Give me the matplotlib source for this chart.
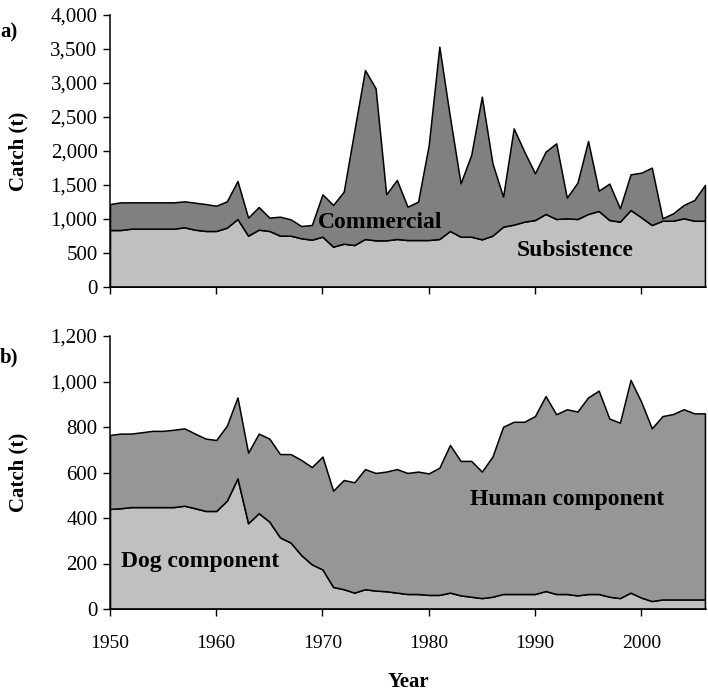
import matplotlib.pyplot as plt
import numpy as np
from matplotlib.ticker import FuncFormatter

plt.rcParams["font.family"] = ["Liberation Serif", "DejaVu Serif"]

years = np.arange(1950, 2007)

# panel a) subsistence and commercial catch (t)
subsistence = [
    838, 838, 858, 858, 858, 858, 858, 878, 843, 824,
    824, 873, 1000, 755, 843, 824, 755, 755, 716, 696,
    740, 593, 637, 617, 706, 686, 686, 706, 691, 691,
    691, 706, 824, 740, 740, 701, 755, 887, 917, 961,
    985, 1074, 1000, 1010, 1000, 1074, 1118, 985, 961, 1132,
    1024, 912, 975, 975, 1010, 975, 975,
]
total_a = [
    1220, 1245, 1245, 1245, 1245, 1245, 1245, 1260, 1240, 1220,
    1195, 1260, 1559, 1020, 1176, 1020, 1034, 995, 897, 912,
    1363, 1206, 1402, 2300, 3191, 2922, 1363, 1574, 1181, 1255,
    2088, 3534, 2500, 1525, 1941, 2799, 1819, 1328, 2333, 1990,
    1672, 1990, 2113, 1314, 1534, 2147, 1417, 1520, 1157, 1657,
    1681, 1755, 1010, 1083, 1206, 1279, 1500,
]
commercial = [t - s for t, s in zip(total_a, subsistence)]

# panel b) dog and human components (t)
dog = [
    440, 443, 448, 448, 448, 448, 448, 454, 443, 431,
    431, 476, 574, 377, 421, 384, 315, 292, 237, 196,
    174, 97, 87, 72, 87, 81, 78, 72, 66, 66,
    62, 62, 72, 60, 54, 48, 54, 66, 66, 66,
    66, 79, 66, 66, 60, 66, 66, 54, 48, 72,
    50, 35, 42, 42, 42, 42, 42,
]
total_b = [
    765, 771, 771, 777, 783, 783, 788, 794, 771, 749,
    743, 806, 930, 687, 771, 749, 681, 681, 655, 624,
    670, 520, 567, 557, 615, 598, 604, 615, 598, 604,
    596, 621, 721, 651, 651, 604, 670, 801, 823, 823,
    848, 936, 856, 878, 868, 930, 960, 837, 819, 1007,
    911, 794, 848, 857, 878, 860, 860,
]
human = [t - d for t, d in zip(total_b, dog)]

light = "#c0c0c0"
dark_a = "#808080"
dark_b = "#969696"

fig = plt.figure(figsize=(7.08, 6.94), dpi=100)
ax_a = fig.add_axes([110 / 708, 1 - 287 / 694, 596 / 708, 272 / 694])
ax_b = fig.add_axes([110 / 708, 1 - 609 / 694, 596 / 708, 273 / 694])

comma = FuncFormatter(lambda v, _: f"{v:,.0f}")

ax_a.stackplot(
    years,
    subsistence,
    commercial,
    colors=[light, dark_a],
    edgecolor="black",
    linewidth=1.1,
)
ax_b.stackplot(
    years,
    dog,
    human,
    colors=[light, dark_b],
    edgecolor="black",
    linewidth=1.1,
)

for ax, top, step in [(ax_a, 4000, 500), (ax_b, 1200, 200)]:
    ax.set_xlim(1950, 2006.1)
    ax.set_ylim(0, top)
    ax.set_yticks(np.arange(0, top + 1, step))
    ax.set_xticks(np.arange(1950, 2001, 10))
    ax.yaxis.set_major_formatter(comma)
    ax.spines["top"].set_visible(False)
    ax.spines["right"].set_visible(False)
    ax.spines["left"].set_linewidth(1.1)
    ax.spines["bottom"].set_linewidth(1.1)
    ax.tick_params(direction="out", length=5, width=1, pad=4)
    ax.tick_params(axis="y", labelsize=15)
    ax.tick_params(axis="x", labelsize=14)
    ax.set_ylabel("Catch (t)", fontsize=15, fontweight="bold")
    ax.yaxis.set_label_coords(-0.137, 0.5)

ax_a.tick_params(axis="x", labelbottom=False)
ax_b.tick_params(axis="x", pad=14)
ax_b.set_xlabel("Year", fontsize=15, fontweight="bold", labelpad=14)

fig.text(0, 1 - 32 / 694, "a)", fontsize=15, fontweight="bold", ha="left", va="center")
fig.text(0, 1 - 357 / 694, "b)", fontsize=15, fontweight="bold", ha="left", va="center")

ax_a.text(1975.4, 950, "Commercial", fontsize=17, fontweight="bold", ha="center", va="center")
ax_a.text(1993.8, 544, "Subsistence", fontsize=17, fontweight="bold", ha="center", va="center")
ax_b.text(1993.0, 481, "Human component", fontsize=17, fontweight="bold", ha="center", va="center")
ax_b.text(1958.5, 208, "Dog component", fontsize=17, fontweight="bold", ha="center", va="center")

fig.savefig("out.png", dpi=100)
